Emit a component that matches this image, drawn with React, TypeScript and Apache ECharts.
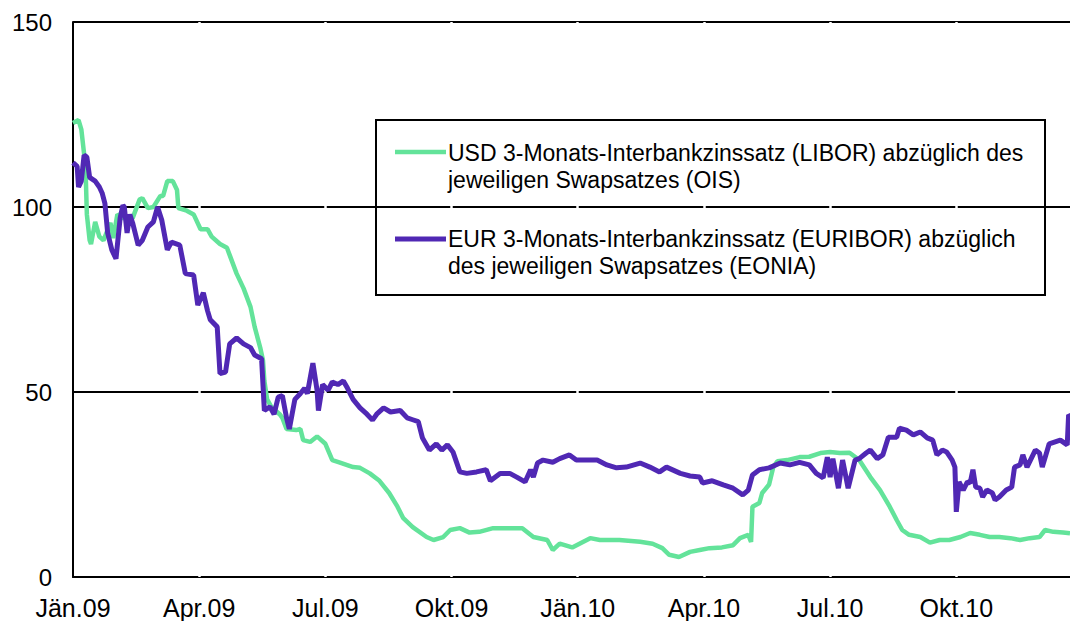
import React, { useEffect, useRef } from "react";
import * as echarts from "echarts";

// x values: days since 1 Jan 2009
const tickLabels = ["Jän.09", "Apr.09", "Jul.09", "Okt.09", "Jän.10", "Apr.10", "Jul.10", "Okt.10"];
const tickStep = 91;
const yTicks = [0, 50, 100, 150];

const usdDays = [0, 4, 6, 9, 10, 12, 13, 16, 19, 22, 27, 29, 32, 36, 43, 48, 50, 54, 58, 63, 65, 68, 72, 75, 76, 82, 87, 92, 97, 100, 106, 111, 113, 118, 123, 128, 131, 135, 137, 138, 140, 143, 149, 151, 154, 161, 164, 166, 171, 176, 182, 187, 192, 202, 207, 214, 221, 228, 234, 238, 245, 255, 260, 267, 272, 279, 286, 293, 303, 315, 324, 332, 342, 346, 351, 360, 373, 380, 394, 409, 418, 425, 430, 437, 445, 452, 459, 468, 476, 481, 487, 489, 490, 495, 497, 502, 505, 508, 515, 524, 531, 539, 546, 553, 560, 567, 575, 582, 589, 594, 598, 603, 611, 618, 625, 632, 640, 647, 654, 661, 668, 676, 683, 690, 697, 701, 707, 714, 719];
const usdValues = [122.7, 123.5, 121, 111, 98, 91, 90, 96, 92, 91, 95.7, 91.6, 98, 97, 97, 102, 102.4, 99.7, 100, 103, 103, 107, 107, 104.6, 99.7, 99, 98, 94, 94, 92, 90, 89, 87, 82, 78, 73, 67.6, 62, 58.6, 53, 48, 46, 44, 43, 40, 39.7, 40, 37, 36.5, 38, 36, 31.6, 31, 29.7, 29.5, 28, 26, 22.7, 19, 16, 13.5, 10.8, 10, 10.8, 12.7, 13.2, 12, 12.2, 13.2, 13.2, 13.2, 10.8, 10, 7.3, 9, 8, 10.5, 10, 10, 9.5, 9, 7.8, 6, 5.4, 6.8, 7.3, 7.8, 8, 8.6, 10.5, 11.4, 9.5, 19, 20, 22.7, 25, 29.7, 31.3, 31.6, 32.4, 32.5, 33.5, 33.8, 33.5, 33.6, 31.6, 27, 23.5, 19, 15.4, 12.7, 11.4, 10.8, 9.3, 10, 10, 10.8, 11.9, 11.4, 10.8, 10.8, 10.5, 10, 10.5, 10.8, 12.7, 12.2, 12, 11.8];

const eurDays = [0, 3, 4, 6, 8, 10, 12, 16, 19, 21, 23, 25, 28, 31, 34, 36, 37, 39, 41, 43, 47, 50, 54, 58, 61, 64, 68, 71, 77, 81, 87, 90, 94, 97, 99, 104, 106, 110, 113, 118, 123, 128, 131, 136, 138, 142, 145, 148, 151, 154, 156, 160, 164, 167, 169, 173, 176, 177, 180, 184, 187, 191, 195, 198, 202, 207, 212, 216, 219, 224, 229, 236, 241, 245, 249, 252, 257, 262, 266, 270, 274, 279, 284, 291, 298, 301, 308, 315, 320, 326, 330, 332, 335, 339, 346, 351, 358, 363, 371, 378, 385, 392, 399, 409, 416, 423, 428, 438, 445, 452, 454, 461, 469, 476, 483, 487, 490, 495, 502, 510, 517, 524, 531, 536, 541, 544, 546, 548, 552, 555, 559, 564, 567, 572, 575, 580, 584, 588, 594, 596, 601, 606, 611, 616, 620, 623, 627, 630, 634, 636, 637, 639, 642, 645, 647, 649, 651, 654, 656, 659, 663, 665, 668, 673, 677, 679, 683, 685, 688, 694, 697, 699, 704, 712, 717, 718, 719];
const eurValues = [112, 111, 105.4, 107, 114, 113.5, 108, 107, 105.4, 103.8, 101, 93, 88.4, 86, 97, 100.5, 100, 93, 98, 95.7, 89.7, 91, 94.6, 96, 100, 96.5, 88.4, 90.5, 89.7, 82, 81.6, 73.5, 76.8, 72, 69.5, 67.6, 55, 55.4, 63, 64.6, 63, 62, 60, 59, 45, 46, 44, 48.6, 49, 43, 40, 48, 49.6, 51, 49.6, 57.8, 50.5, 45, 52, 50.5, 52.7, 52, 53, 51, 48, 45.7, 44, 42.4, 44, 45.7, 44.6, 45, 43, 42.5, 42, 37.6, 34.3, 36, 34.3, 35.7, 33.8, 28.4, 28, 28.4, 29, 26, 28, 28, 27, 25.7, 29, 27, 30.8, 31.6, 31, 32, 33, 31.6, 31.6, 31.6, 30.3, 29.5, 29.7, 30.8, 29.7, 28.4, 29.7, 28, 27.3, 27, 25.4, 26, 24.9, 24, 22.2, 23.5, 27.6, 29, 29.5, 30.8, 30.3, 31, 30.3, 28, 26.8, 32.4, 27, 32, 24, 31.6, 24, 31.6, 32, 33.5, 34.3, 32, 33, 37.8, 37.8, 40.2, 39.7, 38.4, 39.2, 37.6, 37, 33, 34.3, 33.8, 31.6, 29.7, 17.6, 25.7, 23.5, 25.7, 25.4, 29, 24.3, 24, 21.6, 23.5, 22.7, 20.8, 21.6, 23.5, 24.3, 29.7, 30.3, 33, 29.7, 34.3, 33.5, 29.7, 36, 37, 35.7, 43.8, 43.5];

const usdName = "USD 3-Monats-Interbankzinssatz (LIBOR) abzüglich des\njeweiligen Swapsatzes (OIS)";
const eurName = "EUR 3-Monats-Interbankzinssatz (EURIBOR) abzüglich\ndes jeweiligen Swapsatzes (EONIA)";

const GREEN = "#63E39A";
const PURPLE = "#5028B4";
const FONT = "Liberation Sans, Arial, sans-serif";

export default function App() {
  const ref = useRef<HTMLDivElement>(null);
  useEffect(() => {
    if (!ref.current) return;
    const chart = echarts.init(ref.current, null, { renderer: "svg" });
    const usd = usdDays.map((d, i) => [d, usdValues[i]]);
    const eur = eurDays.map((d, i) => [d, eurValues[i]]);
    const gapLines = tickLabels.slice(1).map((_, i) => ({ xAxis: (i + 1) * tickStep }));
    chart.setOption({
      animation: false,
      backgroundColor: "#fff",
      grid: { left: 73, right: 0, top: 22, bottom: 44, containLabel: false },
      xAxis: {
        type: "value",
        min: 0,
        max: 719,
        interval: tickStep,
        axisLine: { show: true, lineStyle: { color: "#000", width: 2 } },
        axisTick: { show: false },
        splitLine: { show: false },
        axisLabel: {
          color: "#000",
          fontFamily: FONT,
          fontSize: 25,
          margin: 18,
          showMaxLabel: false,
          formatter: (v: number) => {
            const i = Math.round(v / tickStep);
            return Math.abs(v - i * tickStep) < 0.5 && i < tickLabels.length ? tickLabels[i] : "";
          },
        },
      },
      yAxis: {
        type: "value",
        min: yTicks[0],
        max: yTicks[yTicks.length - 1],
        interval: 50,
        axisLine: { show: true, lineStyle: { color: "#000", width: 2 } },
        axisTick: { show: false },
        splitLine: { show: true, lineStyle: { color: "#000", width: 2 } },
        axisLabel: { color: "#000", fontFamily: FONT, fontSize: 24, margin: 21 },
      },
      series: [
        {
          name: "gaps",
          type: "line",
          data: [],
          z: 2,
          silent: true,
          markLine: {
            silent: true,
            symbol: "none",
            label: { show: false },
            lineStyle: { color: "#fff", width: 2.5, type: "solid" },
            data: gapLines,
          },
        },
        {
          name: usdName,
          type: "line",
          data: usd,
          showSymbol: false,
          symbol: "none",
          z: 6,
          lineStyle: { color: GREEN, width: 4.5 },
        },
        {
          name: eurName,
          type: "line",
          data: eur,
          showSymbol: false,
          symbol: "none",
          z: 7,
          lineStyle: { color: PURPLE, width: 5 },
        },
      ],
      graphic: [
        {
          type: "rect",
          shape: { x: 376, y: 120, width: 669, height: 175 },
          style: { fill: "none", stroke: "#000", lineWidth: 2 },
          z: 10,
        },
        {
          type: "line",
          shape: { x1: 395, y1: 152, x2: 446, y2: 152 },
          style: { stroke: GREEN, lineWidth: 4.5 },
          z: 10,
        },
        {
          type: "text",
          x: 448,
          y: 139,
          style: { text: usdName, font: `23px ${FONT}`, fill: "#000", lineHeight: 27 },
          z: 10,
        },
        {
          type: "line",
          shape: { x1: 395, y1: 239, x2: 446, y2: 239 },
          style: { stroke: PURPLE, lineWidth: 5 },
          z: 10,
        },
        {
          type: "text",
          x: 448,
          y: 225,
          style: { text: eurName, font: `23px ${FONT}`, fill: "#000", lineHeight: 27 },
          z: 10,
        },
      ],
    });
    return () => chart.dispose();
  }, []);
  return <div ref={ref} style={{ position: "fixed", left: 0, top: 0, width: 1070, height: 621 }} />;
}
